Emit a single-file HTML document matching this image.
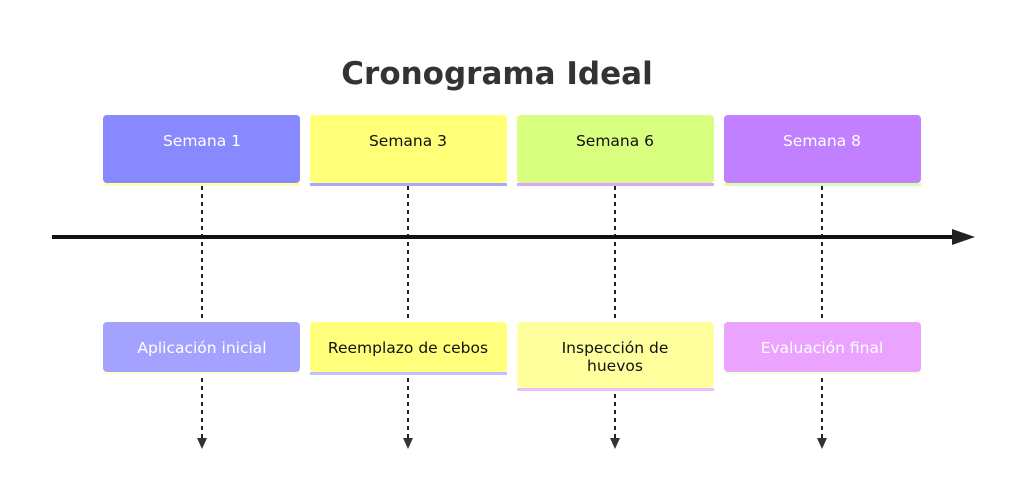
<!DOCTYPE html>
<html><head><meta charset="utf-8"><style>
body{margin:0;background:#fff;width:1024px;height:499px;overflow:hidden;font-family:"DejaVu Sans","Liberation Sans",sans-serif}
</style></head><body>
<svg width="1024" height="499" xmlns="http://www.w3.org/2000/svg" font-family="DejaVu Sans, Liberation Sans, sans-serif">
<text x="497" y="84" text-anchor="middle" font-size="31" font-weight="bold" fill="#333">Cronograma Ideal</text>
<g stroke="#222" stroke-width="2" stroke-dasharray="4,4">
<line x1="202" y1="186" x2="202" y2="440"/><line x1="408" y1="186" x2="408" y2="440"/><line x1="615" y1="186" x2="615" y2="440"/><line x1="822" y1="186" x2="822" y2="440"/>
</g>
<g fill="#333"><path d="M197,438h10l-5,11z"/><path d="M403,438h10l-5,11z"/><path d="M610,438h10l-5,11z"/><path d="M817,438h10l-5,11z"/></g>
<line x1="52" y1="237" x2="955" y2="237" stroke="#111" stroke-width="4"/>
<path d="M952,229L975,237L952,245z" fill="#222"/>
<rect x="103" y="183" width="197" height="3" fill="#ffffaa"/><rect x="103" y="115" width="197" height="68" rx="4" fill="#8888ff"/>
<rect x="310" y="183" width="197" height="3" fill="#a8a8ff"/><rect x="310" y="115" width="197" height="68" rx="4" fill="#ffff78"/>
<rect x="517" y="183" width="197" height="3" fill="#d8a8ff"/><rect x="517" y="115" width="197" height="68" rx="4" fill="#d8ff80"/>
<rect x="724" y="183" width="197" height="3" fill="#d8ffb0"/><rect x="724" y="115" width="197" height="68" rx="4" fill="#c080ff"/>
<rect x="103" y="372" width="197" height="2" fill="#ffffcc"/><rect x="103" y="322" width="197" height="50" rx="4" fill="#a3a3ff"/>
<rect x="310" y="372" width="197" height="3" fill="#c0c0ff"/><rect x="310" y="322" width="197" height="50" rx="4" fill="#ffff7b"/>
<rect x="517" y="388" width="197" height="3" fill="#ecc0ff"/><rect x="517" y="322" width="197" height="66" rx="4" fill="#ffff9e"/>
<rect x="724" y="372" width="197" height="2" fill="#f0ffd8"/><rect x="724" y="322" width="197" height="50" rx="4" fill="#eaa3ff"/>
<g font-size="15.5" text-anchor="middle">
<text x="202" y="146" fill="#fff">Semana 1</text>
<text x="408" y="146" fill="#111">Semana 3</text>
<text x="615" y="146" fill="#111">Semana 6</text>
<text x="822" y="146" fill="#fff">Semana 8</text>
<text x="202" y="353" fill="#fff">Aplicación inicial</text>
<text x="408" y="353" fill="#111">Reemplazo de cebos</text>
<text x="615" y="353" fill="#111">Inspección de</text>
<text x="615" y="371" fill="#111">huevos</text>
<text x="822" y="353" fill="#fff">Evaluación final</text>
</g>
</svg>
</body></html>
